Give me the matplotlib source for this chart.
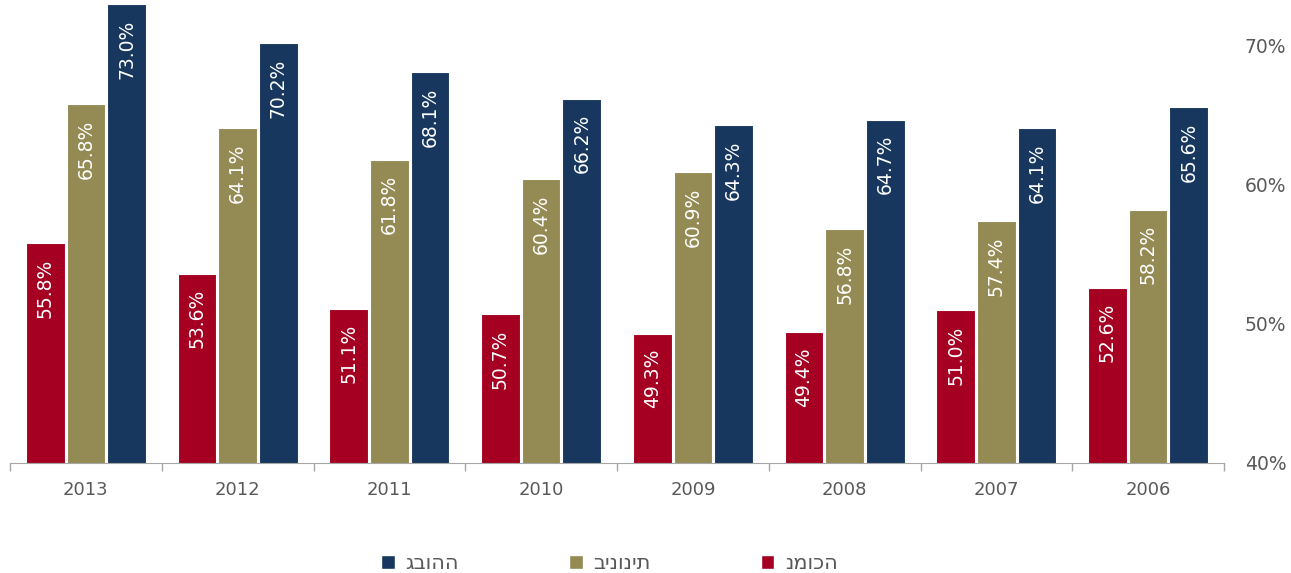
import matplotlib.pyplot as plt
import numpy as np
from matplotlib.patches import Patch

years = ['2013', '2012', '2011', '2010', '2009', '2008', '2007', '2006']
low = [55.8, 53.6, 51.1, 50.7, 49.3, 49.4, 51.0, 52.6]
mid = [65.8, 64.1, 61.8, 60.4, 60.9, 56.8, 57.4, 58.2]
high = [73.0, 70.2, 68.1, 66.2, 64.3, 64.7, 64.1, 65.6]
series_names = ['נמוכה', 'בינונית', 'גבוהה']
colors = ['#A50021', '#948A54', '#17375E']

plt.rcParams['font.family'] = ['DejaVu Sans']
grey = '#595959'

fig = plt.figure(figsize=(12.91, 5.73), dpi=100)
ax = fig.add_axes([10 / 1291, 1 - 463 / 573, 1214 / 1291, 463 / 573])

x = np.arange(len(years)) + 0.5
width = 0.255
step = 0.268
for i, (vals, color) in enumerate(zip([low, mid, high], colors)):
    pos = x + (i - 1) * step
    ax.bar(pos, vals, width=width, color=color, edgecolor='white', linewidth=0.8, zorder=2)
    for px, v in zip(pos, vals):
        ax.text(px, v - 1.1, f'{v:.1f}%', rotation=90, ha='center', va='top',
                color='white', fontsize=13.5, zorder=3)

ax.set_xlim(0, len(years))
ax.set_ylim(40, 73.3)

# year labels centred under each group, tick marks on the group boundaries
ax.set_xticks(x)
ax.set_xticklabels(years, fontsize=13, color=grey)
ax.tick_params(axis='x', which='major', length=0, pad=13)
ax.set_xticks(np.arange(len(years) + 1), minor=True)
ax.tick_params(axis='x', which='minor', length=6, color='#A6A6A6', width=1)

ax.yaxis.tick_right()
ax.set_yticks([40, 50, 60, 70])
ax.set_yticklabels(['40%', '50%', '60%', '70%'], fontsize=13.5, color=grey)
ax.tick_params(axis='y', length=0, pad=15)

for side in ['top', 'left', 'right']:
    ax.spines[side].set_visible(False)
ax.spines['bottom'].set_color('#A6A6A6')

handles = [Patch(facecolor=colors[k], edgecolor='white') for k in (2, 1, 0)]
labels = [series_names[k] for k in (2, 1, 0)]
leg = fig.legend(handles, labels, loc='center', bbox_to_anchor=(0.472, 0.017), ncol=3,
                 frameon=False, fontsize=15, handlelength=0.65, handleheight=0.65,
                 handletextpad=0.5, columnspacing=5.3)
for t in leg.get_texts():
    t.set_color(grey)

fig.savefig('out.png', dpi=100)
